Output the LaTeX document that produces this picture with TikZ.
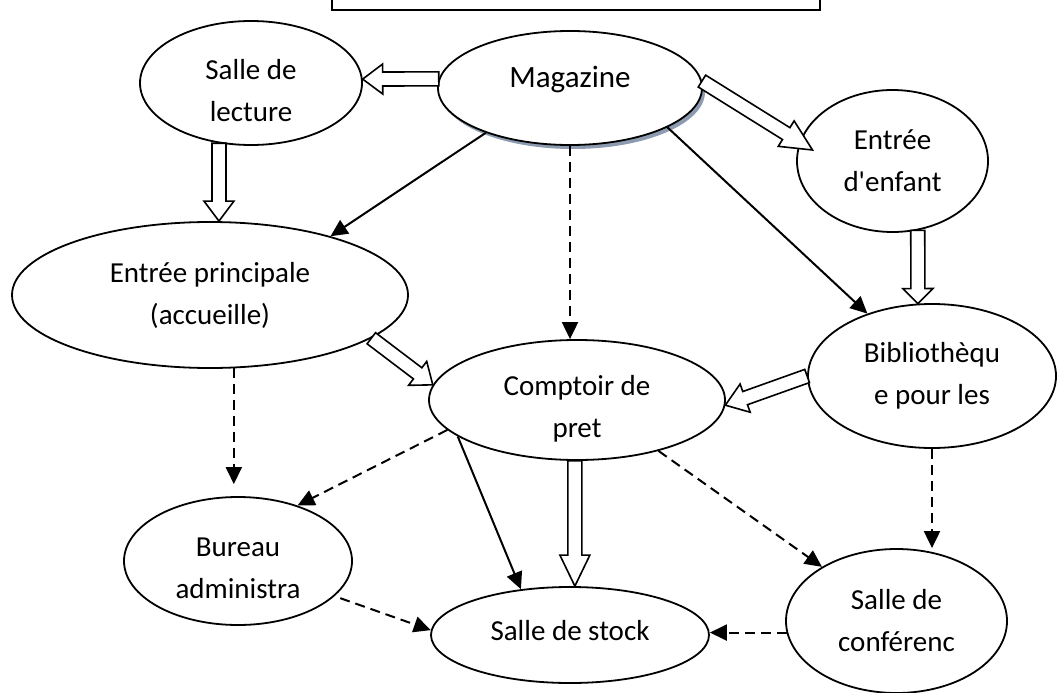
\documentclass[tikz,border=0pt]{standalone}
\usepackage{fontspec}
\setmainfont{Carlito}
\usetikzlibrary{shapes.geometric,arrows.meta,calc,shadows}
\definecolor{shadowgrey}{HTML}{8C9BAF}

\tikzset{
  room/.style={draw, ellipse, line width=1.8pt, fill=white, inner sep=0pt,
    align=center, font=\fontsize{29}{42}\selectfont},
  flow/.style={line width=2pt, -{Triangle[length=17pt,width=16pt]}},
  dashflow/.style={flow, dash pattern=on 10pt off 6pt},
  hollow/.style={draw, line width=1.6pt, fill=white, line join=miter},
}

% block arrow: [head length]{tail}{tip}
\newcommand{\hollowarrow}[3][20pt]{%
  \path ($(#3)!#1!(#2)$) coordinate (hb);
  \draw[hollow] ($(#2)!7pt!90:(#3)$) -- ($(hb)!7pt!-90:(#2)$) -- ($(hb)!15pt!-90:(#2)$)
    -- (#3) -- ($(hb)!15pt!90:(#2)$) -- ($(hb)!7pt!90:(#2)$) -- ($(#2)!7pt!-90:(#3)$) -- cycle;
}

\begin{document}
\begin{tikzpicture}[x=1pt, y=-1pt]
  \useasboundingbox (0,0) rectangle (1057,693);

  % title frame
  \draw[line width=1.8pt] (332,-5) rectangle (820,10);

  % rooms
  \node[room, minimum width=264pt, minimum height=114pt, text depth=22pt,
    font=\fontsize{31}{38}\selectfont,
    drop shadow={shadow xshift=3pt, shadow yshift=-4pt, fill=shadowgrey, opacity=1}]
    (mag) at (570,88) {Magazine};
  \node[room, minimum width=222pt, minimum height=124pt, text height=78pt] (lect) at (251,83) {Salle de\\lecture};
  \node[room, minimum width=191pt, minimum height=142pt] (enf) at (892.5,161) {Entrée\\d\textquotesingle enfant};
  \node[room, minimum width=396pt, minimum height=146pt] (princ) at (210,295) {Entrée principale\\(accueille)};
  \node[room, minimum width=296pt, minimum height=120pt, text height=80pt] (comp) at (577,400) {Comptoir de\\pret};
  \node[room, minimum width=248pt, minimum height=144pt] (bib) at (932,376) {Bibliothèqu\\e pour les};
  \node[room, minimum width=228pt, minimum height=128pt, text height=76pt] (bur) at (238,561) {Bureau\\administra};
  \node[room, minimum width=278pt, minimum height=96pt, text depth=10pt] (stock) at (570,635) {Salle de stock};
  \node[room, minimum width=221pt, minimum height=144pt] (conf) at (896.5,621) {Salle de\\conférenc};

  % block arrows
  \coordinate (lectend) at (lect.242 |- princ.north);
  \coordinate (enftip) at ([shift={(-80,-11)}]enf.center);
  \coordinate (stockend) at (comp.268 |- stock.north);
  \hollowarrow{mag.176}{lect.2}
  \hollowarrow{lect.242}{lectend}
  \hollowarrow[31pt]{mag.3}{enftip}
  \hollowarrow[15pt]{enf.290}{bib.101}
  \hollowarrow[19pt]{princ.345}{comp.174}
  \hollowarrow[21pt]{bib.180}{comp.358}
  \hollowarrow[31pt]{comp.268}{stockend}

  % solid arrows
  \draw[flow] (mag.208) -- (princ.26);
  \draw[flow] (mag.338) -- (bib.136);
  \draw[flow] (comp.197) -- (stock.137);

  % dashed arrows
  \draw[dashflow] (mag.south) -- (mag.south |- comp.north);
  \draw[dashflow, shorten >=12pt] (princ.288) -- (princ.288 |- bur.north);
  \draw[dashflow] (comp.193) -- (bur.43);
  \draw[dashflow, shorten <=6pt] (bur.340) -- (stock.178);
  \draw[dashflow] (comp.328) -- (conf.144);
  \draw[dashflow] (bib.south) -- (bib.south |- conf.north);
  \draw[dashflow] (conf.186) -- (conf.186 -| stock.east);
\end{tikzpicture}
\end{document}
